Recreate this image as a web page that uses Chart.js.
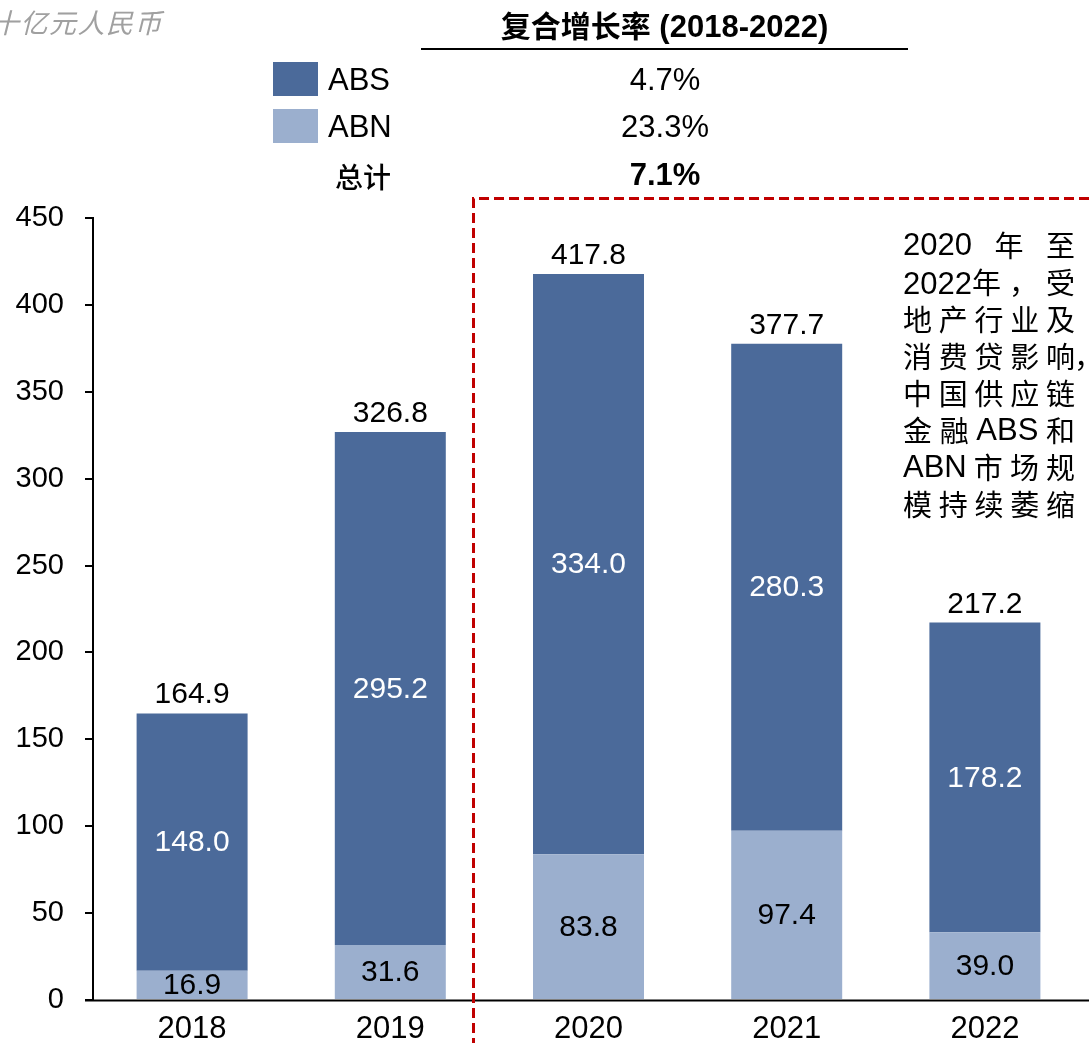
<!DOCTYPE html>
<html><head><meta charset="utf-8">
<script src="https://cdn.jsdelivr.net/npm/chart.js@4"></script>
<style>
html,body{margin:0;padding:0;background:#fff;overflow:hidden;}
body{width:1089px;height:1043px;position:relative;font-family:"Liberation Sans",Arial,"Noto Sans CJK SC",sans-serif;color:#000;}
#wrap{position:absolute;left:0;top:0;width:1089px;height:1043px;}
.abs{position:absolute;white-space:nowrap;}
#unit{left:-8px;top:4px;font-size:27px;line-height:36px;letter-spacing:1.5px;color:#a0a0a0;font-style:italic;font-family:"Noto Sans CJK SC",sans-serif;}
#cagrTitle{left:421px;width:487px;top:6px;text-align:center;font-size:31px;line-height:36px;font-weight:bold;}
#cagrLine{left:421px;top:48px;width:487px;height:0;border-top:2px solid #000;}
.cv{left:565px;width:200px;text-align:center;font-size:31px;line-height:36px;}
.lbox{width:45px;height:34px;}
.ltxt{font-size:31px;line-height:36px;}
#note{left:903px;top:226px;width:172px;font-size:31px;line-height:37px;}
#note .ln{display:flex;justify-content:space-between;height:37px;position:relative;}
.cjk{font-family:"Noto Sans CJK SC",sans-serif;font-size:29px;}
</style></head>
<body>
<div id="wrap"><canvas id="c" width="1089" height="1043"></canvas></div>
<div class="abs" id="unit">十亿元人民币</div>
<div class="abs" id="cagrTitle"><span style="font-family:'Noto Sans CJK SC';font-size:30px">复合增长率</span> (2018-2022)</div>
<div class="abs" id="cagrLine"></div>
<div class="abs lbox" id="lb1" style="left:273px;top:62px;"></div>
<div class="abs ltxt" style="left:328px;top:62px;">ABS</div>
<div class="abs lbox" id="lb2" style="left:273px;top:109px;"></div>
<div class="abs ltxt" style="left:328px;top:109px;">ABN</div>
<div class="abs ltxt cjk" style="left:335px;top:158px;font-size:28px;font-weight:500;">总计</div>
<div class="abs cv" style="top:62px;" id="cv1"></div>
<div class="abs cv" style="top:109px;" id="cv2"></div>
<div class="abs cv" style="top:157px;font-weight:bold;" id="cv3"></div>
<div class="abs" id="note"></div>
<script>
const categories = ['2018','2019','2020','2021','2022'];
const absValues = [148.0, 295.2, 334.0, 280.3, 178.2];
const abnValues = [16.9, 31.6, 83.8, 97.4, 39.0];
const totals = [164.9, 326.8, 417.8, 377.7, 217.2];
const cagrLabels = ['4.7%', '23.3%', '7.1%'];
const yTicks = [0, 50, 100, 150, 200, 250, 300, 350, 400, 450];
const noteLines = [
  ['2020', '年', '至'],
  ['2022年', '，', '受'],
  ['地', '产', '行', '业', '及'],
  ['消', '费', '贷', '影', '响'],
  ['中', '国', '供', '应', '链'],
  ['金', '融', 'ABS', '和'],
  ['ABN', '市', '场', '规'],
  ['模', '持', '续', '萎', '缩']
];

const ABS_COLOR = '#4B6A9A';
const ABN_COLOR = '#9BAFCE';
document.getElementById('lb1').style.background = ABS_COLOR;
document.getElementById('lb2').style.background = ABN_COLOR;
document.getElementById('cv1').textContent = cagrLabels[0];
document.getElementById('cv2').textContent = cagrLabels[1];
document.getElementById('cv3').textContent = cagrLabels[2];

const note = document.getElementById('note');
noteLines.forEach((tokens, li) => {
  const ln = document.createElement('div');
  ln.className = 'ln';
  tokens.forEach(t => {
    const s = document.createElement('span');
    s.textContent = t;
    if (/[\u4e00-\u9fff\uff0c]/.test(t) && !/[0-9A-Z]/.test(t)) s.className = 'cjk';
    if (t === '2022年') s.innerHTML = '2022<span class="cjk">年</span>';
    ln.appendChild(s);
  });
  if (li === 3) {
    const c = document.createElement('span');
    c.className = 'cjk';
    c.textContent = '，';
    c.style.position = 'absolute';
    c.style.left = '171px';
    ln.appendChild(c);
  }
  note.appendChild(ln);
});

const FONT = '"Liberation Sans", Arial, sans-serif';

const labelPlugin = {
  id: 'labels',
  afterDatasetsDraw(chart) {
    const ctx = chart.ctx;
    ctx.save();
    ctx.font = '30px ' + FONT;
    ctx.textAlign = 'center';
    ctx.textBaseline = 'middle';
    const m0 = chart.getDatasetMeta(0), m1 = chart.getDatasetMeta(1);
    m0.data.forEach((el, i) => {
      ctx.fillStyle = '#000';
      ctx.fillText(abnValues[i].toFixed(1), el.x, (el.y + el.base) / 2 + 1);
    });
    m1.data.forEach((el, i) => {
      ctx.fillStyle = '#fff';
      ctx.fillText(absValues[i].toFixed(1), el.x, (el.y + el.base) / 2 + 1);
      ctx.fillStyle = '#000';
      ctx.textBaseline = 'alphabetic';
      ctx.fillText(totals[i].toFixed(1), el.x, el.y - 10);
      ctx.textBaseline = 'middle';
    });
    const ca = chart.chartArea;
    ctx.strokeStyle = '#000';
    ctx.lineWidth = 2;
    ctx.beginPath();
    ctx.moveTo(ca.left - 8, ca.bottom + 0.5);
    ctx.lineTo(chart.width, ca.bottom + 0.5);
    ctx.stroke();
    ctx.strokeStyle = '#C00000';
    ctx.lineWidth = 3;
    ctx.setLineDash([10, 5]);
    ctx.beginPath();
    ctx.moveTo(473.5, chart.height + 5);
    ctx.lineTo(473.5, 198.5);
    ctx.lineTo(chart.width + 5, 198.5);
    ctx.stroke();
    ctx.restore();
  }
};

new Chart(document.getElementById('c'), {
  type: 'bar',
  data: {
    labels: categories,
    datasets: [
      { label: 'ABN', data: abnValues, backgroundColor: ABN_COLOR, categoryPercentage: 1, barPercentage: 0.56, borderWidth: 0 },
      { label: 'ABS', data: absValues, backgroundColor: ABS_COLOR, categoryPercentage: 1, barPercentage: 0.56, borderWidth: 0 }
    ]
  },
  options: {
    responsive: false,
    animation: false,
    devicePixelRatio: 1,
    layout: { padding: { top: 218, right: 5, left: 0, bottom: 0 } },
    plugins: { legend: { display: false }, tooltip: { enabled: false } },
    scales: {
      x: {
        stacked: true,
        grid: { display: false, drawTicks: false },
        border: { display: false },
        ticks: { font: { size: 31, family: FONT }, color: '#000', padding: 11, maxRotation: 0 },
        afterFit(s) { s.height = 43; }
      },
      y: {
        stacked: true,
        min: 0, max: 450,
        afterBuildTicks(s) { s.ticks = yTicks.map(v => ({ value: v })); },
        grid: { drawOnChartArea: false, drawTicks: true, tickLength: 8, color: '#000', lineWidth: 2 },
        border: { display: true, color: '#000', width: 2 },
        ticks: { font: { size: 29, family: FONT }, color: '#000', padding: 21 },
        afterFit(s) { s.width = 93; }
      }
    }
  },
  plugins: [labelPlugin]
});
</script>
</body></html>
